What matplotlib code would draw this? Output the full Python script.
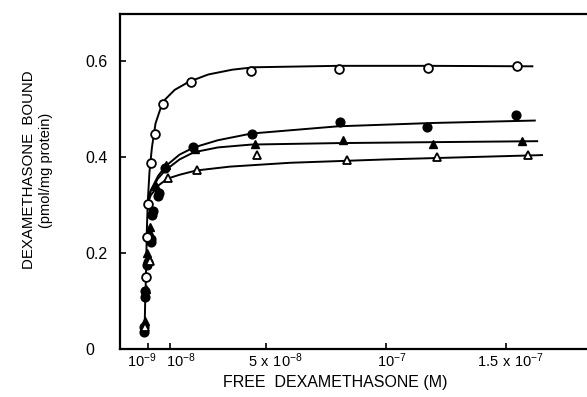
import matplotlib
matplotlib.use("Agg")
import matplotlib.pyplot as plt
from matplotlib.transforms import ScaledTranslation

# free dexamethasone in nM (1e-9 M), bound in pmol/mg protein
# open circles
oc_x = [0.0, 0.3, 0.7, 2.0, 3.75, 7.2, 18.6, 43.75, 80.3, 117.6, 154.7]
oc_y = [0.150, 0.234, 0.302, 0.387, 0.449, 0.511, 0.556, 0.580, 0.584, 0.586, 0.590]
# filled circles
fc_x = [-0.7, -0.8, -0.5, -0.3, 0.3, 0.8, 2.3, 2.0, 2.7, 3.0, 5.1, 5.5, 7.9, 19.7, 44.3, 80.8, 117.2, 154.2]
fc_y = [0.035, 0.045, 0.109, 0.120, 0.174, 0.181, 0.222, 0.230, 0.280, 0.288, 0.318, 0.325, 0.378, 0.421, 0.449, 0.472, 0.462, 0.487]
# filled triangles
ft_x = [-0.4, 0.0, 0.5, 1.2, 1.7, 4.4, 8.3, 20.4, 45.4, 82.2, 119.7, 156.8]
ft_y = [0.058, 0.126, 0.201, 0.245, 0.254, 0.339, 0.383, 0.416, 0.428, 0.436, 0.428, 0.434]
# open triangles
ot_x = [-0.4, 1.7, 9.3, 21.1, 46.4, 83.8, 121.1, 159.0]
ot_y = [0.045, 0.184, 0.356, 0.373, 0.405, 0.393, 0.400, 0.405]

# hand drawn curves
oc_cx = [-0.6, -0.3, 0.0, 0.4, 0.8, 1.5, 2.5, 4.0, 6.0, 8.0, 12.0, 18.0, 26.0, 36.0, 45.0, 80.0, 118.0, 161.0]
oc_cy = [0.030, 0.100, 0.150, 0.250, 0.310, 0.370, 0.420, 0.470, 0.500, 0.520, 0.540, 0.557, 0.572, 0.582, 0.587, 0.590, 0.590, 0.589]
fc_cx = [0.5, 2.0, 5.0, 8.0, 14.0, 20.0, 30.0, 44.0, 80.0, 120.0, 162.0]
fc_cy = [0.300, 0.330, 0.360, 0.380, 0.405, 0.420, 0.435, 0.449, 0.464, 0.471, 0.476]
ft_cx = [0.5, 2.0, 5.0, 8.0, 14.0, 20.0, 30.0, 44.0, 80.0, 120.0, 163.0]
ft_cy = [0.300, 0.330, 0.355, 0.372, 0.395, 0.410, 0.420, 0.426, 0.429, 0.431, 0.433]
ot_cx = [0.5, 2.0, 5.0, 9.0, 14.0, 21.0, 35.0, 60.0, 100.0, 165.0]
ot_cy = [0.300, 0.320, 0.340, 0.355, 0.363, 0.372, 0.380, 0.388, 0.395, 0.404]

xtick_pos = [1, 10, 50, 100, 150]
xtick_lab = [r'$\mathregular{10^{-9}}$', r'$\mathregular{10^{-8}}$', r'$\mathregular{5\ x\ 10^{-8}}$',
             r'$\mathregular{10^{-7}}$', r'$\mathregular{1.5\ x\ 10^{-7}}$']
# the printed labels sit a little off their ticks (pixels)
xtick_shift = [-7, 11, 9, 6, 4]
ytick_pos = [0, 0.2, 0.4, 0.6]
ytick_lab = ['0', '0.2', '0.4', '0.6']

plt.rcParams['font.family'] = ['Liberation Sans', 'DejaVu Sans']

fig = plt.figure(figsize=(5.87, 3.97), dpi=100)
# axes runs past the right edge of the figure like the scanned original
ax = fig.add_axes([120/587, 48/397, 506/587, 335/397])

for cx, cy in [(oc_cx, oc_cy), (fc_cx, fc_cy), (ft_cx, ft_cy), (ot_cx, ot_cy)]:
    ax.plot(cx, cy, color='black', lw=1.4, zorder=2)

ms = 6.3
ax.plot(fc_x, fc_y, 'o', ms=ms, mfc='black', mec='black', zorder=3)
ax.plot(ft_x, ft_y, '^', ms=ms, mfc='black', mec='black', zorder=3)
ax.plot(ot_x, ot_y, '^', ms=ms, mfc='white', mec='black', mew=1.3, zorder=4)
ax.plot(oc_x, oc_y, 'o', ms=ms, mfc='white', mec='black', mew=1.3, zorder=4)

ax.set_xlim(-10.8, 200)
ax.set_ylim(0, 0.698)
ax.set_xticks(xtick_pos)
ax.set_xticklabels(xtick_lab, fontsize=10.5)
ax.set_yticks(ytick_pos)
ax.set_yticklabels(ytick_lab, fontsize=11.5)
ax.tick_params(direction='in', length=4, width=1.2)
ax.tick_params(axis='x', pad=2)
ax.tick_params(axis='y', pad=25)
for lab in ax.get_yticklabels():
    lab.set_horizontalalignment('left')
for lab, dx in zip(ax.get_xticklabels(), xtick_shift):
    lab.set_transform(lab.get_transform() + ScaledTranslation(dx/100, 0, fig.dpi_scale_trans))
for s in ax.spines.values():
    s.set_linewidth(1.6)

fig.text(335/587, 1 - 383/397, 'FREE  DEXAMETHASONE (M)', ha='center', va='center', fontsize=11.5)
fig.text(29/587, 1 - 170/397, 'DEXAMETHASONE  BOUND', rotation=90, ha='center', va='center', fontsize=10.8)
fig.text(46/587, 1 - 170/397, '(pmol/mg protein)', rotation=90, ha='center', va='center', fontsize=10.5)

fig.savefig('out.png', dpi=100)
